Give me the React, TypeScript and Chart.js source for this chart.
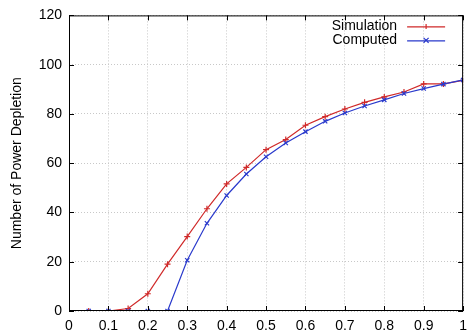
import React, { useEffect, useRef } from "react";
import { Chart, registerables } from "chart.js";

Chart.register(...registerables);

const xValues = [0.05, 0.1, 0.15, 0.2, 0.25, 0.3, 0.35, 0.4, 0.45, 0.5, 0.55, 0.6, 0.65, 0.7, 0.75, 0.8, 0.85, 0.9, 0.95, 1.0];
const simulation = [0, 0, 1, 7, 19, 30.2, 41.5, 51.6, 58.3, 65.5, 69.6, 75.4, 78.9, 82.0, 84.7, 86.9, 88.9, 92.2, 92.2, 93.6];
const computed = [0, 0, 0, 0, 0, 20.6, 35.6, 46.9, 55.6, 62.6, 68.2, 72.8, 77.0, 80.4, 83.2, 85.7, 88.3, 90.3, 92.1, 93.8];
const seriesNames = ["Simulation", "Computed"];
const seriesColors = ["#d02a2a", "#2a3acc"];
const seriesMarkers = ["cross", "crossRot"];

const FONT = "'Liberation Sans', Arial, sans-serif";

const framePlugin = {
  id: "frame",
  afterDraw(chart: any) {
    const { ctx, chartArea } = chart;
    const { left, right, top, bottom } = chartArea;
    const xs = chart.scales.x;
    const ys = chart.scales.y;
    ctx.save();
    ctx.strokeStyle = "#000";
    ctx.lineWidth = 1;
    ctx.strokeRect(left + 0.5, top + 0.5, right - left - 1, bottom - top - 1);
    const tl = 5;
    ctx.beginPath();
    xs.ticks.forEach((t: any) => {
      const px = Math.round(xs.getPixelForValue(t.value)) + 0.5;
      ctx.moveTo(px, bottom);
      ctx.lineTo(px, bottom - tl);
      ctx.moveTo(px, top);
      ctx.lineTo(px, top + tl);
    });
    ys.ticks.forEach((t: any) => {
      const py = Math.round(ys.getPixelForValue(t.value)) + 0.5;
      ctx.moveTo(left, py);
      ctx.lineTo(left + tl, py);
      ctx.moveTo(right, py);
      ctx.lineTo(right - tl, py);
    });
    ctx.stroke();

    // legend
    ctx.font = `14px ${FONT}`;
    ctx.textAlign = "right";
    ctx.textBaseline = "middle";
    const textRight = right - 66;
    const lineStart = right - 56;
    const lineEnd = right - 18;
    seriesNames.forEach((name, i) => {
      const y = top + 11 + i * 14;
      ctx.fillStyle = "#000";
      ctx.fillText(name, textRight, y);
      ctx.strokeStyle = seriesColors[i];
      ctx.lineWidth = 1.2;
      ctx.beginPath();
      ctx.moveTo(lineStart, y + 0.5);
      ctx.lineTo(lineEnd, y + 0.5);
      const cx = (lineStart + lineEnd) / 2;
      const r = 2.5;
      if (i === 0) {
        ctx.moveTo(cx, y - r);
        ctx.lineTo(cx, y + r);
      } else {
        ctx.moveTo(cx - r, y - r);
        ctx.lineTo(cx + r, y + r);
        ctx.moveTo(cx + r, y - r);
        ctx.lineTo(cx - r, y + r);
      }
      ctx.stroke();
    });
    ctx.restore();
  },
};

export default function App() {
  const ref = useRef<HTMLCanvasElement | null>(null);
  useEffect(() => {
    document.body.style.margin = "0";
    if (!ref.current) return;
    const chart = new Chart(ref.current, {
      type: "line",
      data: {
        datasets: seriesNames.map((name, i) => ({
          label: name,
          data: xValues.map((x, j) => ({ x, y: i === 0 ? simulation[j] : computed[j] })),
          borderColor: seriesColors[i],
          backgroundColor: seriesColors[i],
          borderWidth: 1.2,
          pointStyle: seriesMarkers[i] as any,
          pointRadius: 3,
          pointBorderWidth: 1.2,
          pointHoverRadius: 3,
          tension: 0,
          fill: false,
          order: i === 0 ? 1 : 0,
        })),
      },
      options: {
        animation: false,
        responsive: false,
        maintainAspectRatio: false,
        layout: { padding: { top: 10, right: 9, left: 0, bottom: 0 } },
        plugins: { legend: { display: false }, tooltip: { enabled: false } },
        scales: {
          x: {
            type: "linear",
            min: 0,
            max: 1,
            ticks: {
              stepSize: 0.1,
              color: "#000",
              font: { family: FONT, size: 14 },
              padding: 7,
              maxRotation: 0,
              callback: (v: any) => String(Math.round(Number(v) * 10) / 10),
            },
            grid: { color: "#c8c8c8", drawTicks: false, tickLength: 0 },
            border: { display: false, dash: [1, 2] },
            afterFit: (s: any) => { s.height = 24; },
          },
          y: {
            min: 0,
            max: 120,
            ticks: {
              stepSize: 20,
              color: "#000",
              font: { family: FONT, size: 14 },
              padding: 7,
            },
            grid: { color: "#c8c8c8", drawTicks: false, tickLength: 0 },
            border: { display: false, dash: [1, 2] },
            title: {
              display: true,
              text: "Number of Power Depletion",
              color: "#000",
              font: { family: FONT, size: 14 },
              padding: { top: 9, bottom: 0 },
            },
            afterFit: (s: any) => { s.width = 69; },
          },
        },
      },
      plugins: [framePlugin],
    });
    return () => chart.destroy();
  }, []);
  return (
    <div style={{ width: 474, height: 335 }}>
      <canvas ref={ref} width={474} height={335} style={{ display: "block" }} />
    </div>
  );
}
